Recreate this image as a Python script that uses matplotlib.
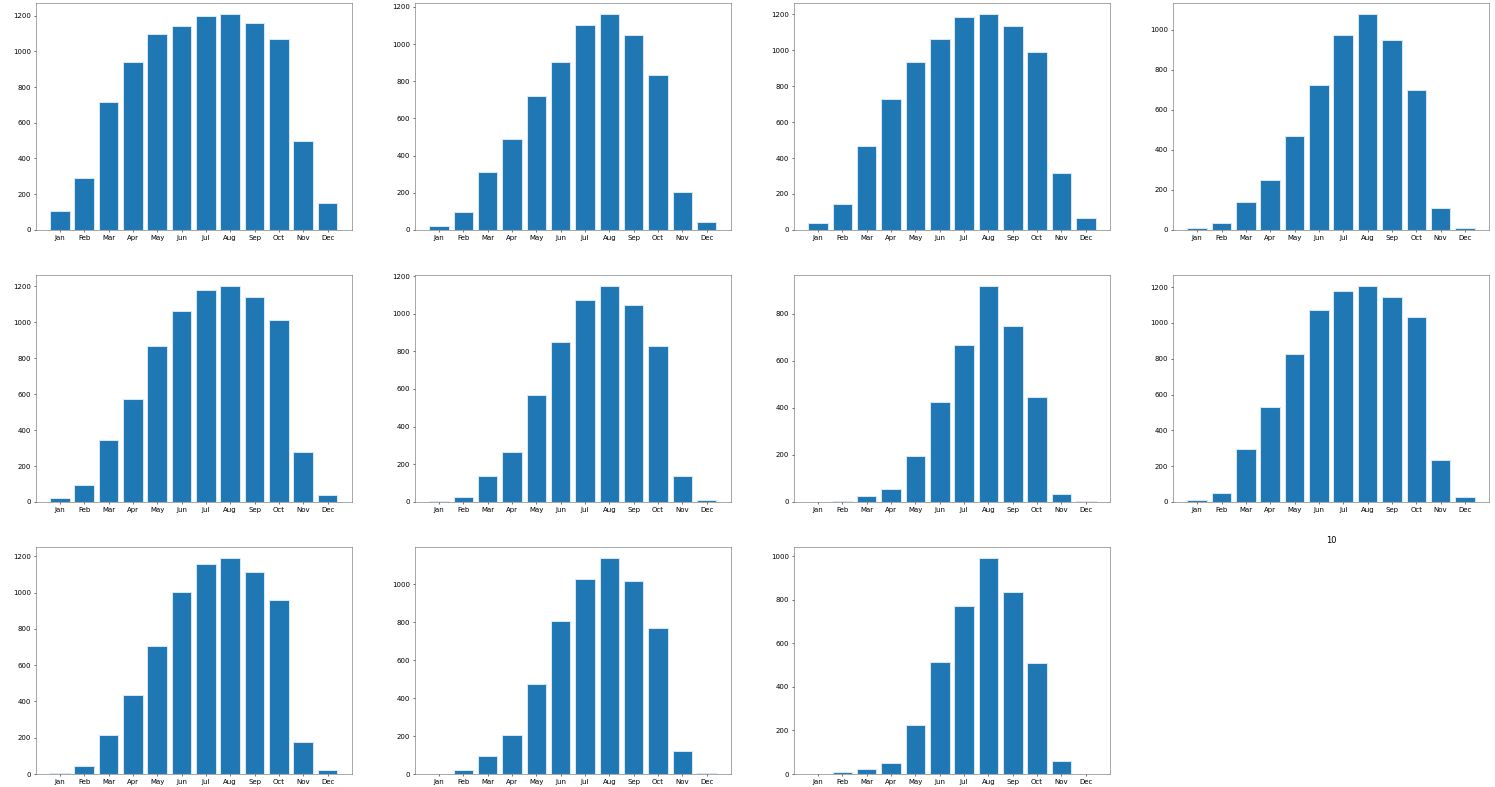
import matplotlib
matplotlib.use("Agg")
import matplotlib.pyplot as plt

months = ["Jan", "Feb", "Mar", "Apr", "May", "Jun", "Jul", "Aug", "Sep", "Oct", "Nov", "Dec"]

s0 = [105, 290, 715, 938, 1100, 1142, 1200, 1210, 1160, 1068, 500, 150]
s1 = [20, 95, 312, 488, 720, 905, 1103, 1162, 1048, 832, 205, 40]
s2 = [37, 143, 468, 727, 938, 1062, 1185, 1203, 1137, 993, 315, 68]
s3 = [8, 33, 137, 247, 468, 723, 972, 1078, 950, 700, 108, 10]
s4 = [22, 93, 347, 575, 868, 1061, 1178, 1202, 1141, 1011, 278, 41]
s5 = [7, 27, 136, 265, 566, 850, 1071, 1147, 1048, 830, 136, 12]
s6 = [1, 4, 24, 55, 194, 426, 668, 919, 748, 447, 34, 4]
s7 = [9, 50, 296, 530, 828, 1073, 1176, 1206, 1144, 1031, 236, 28]
s8 = [5, 46, 213, 434, 705, 1005, 1156, 1191, 1115, 959, 178, 24]
s9 = [1, 19, 96, 205, 474, 805, 1028, 1137, 1016, 770, 119, 5]
s10 = [1, 8, 23, 51, 224, 513, 770, 991, 836, 508, 58, 1]

series = [s0, s1, s2, s3, s4, s5, s6, s7, s8, s9, s10]

fig, axes = plt.subplots(3, 4, figsize=(29.9, 15.74), dpi=50)
fig.subplots_adjust(left=0.0239, right=0.996, top=0.996, bottom=0.0165,
                    wspace=0.2, hspace=0.2)

flat = axes.ravel()
for i, vals in enumerate(series):
    ax = flat[i]
    ax.bar(months, vals, color="#1f77b4", edgecolor="#d6e6f4", linewidth=1.5)
    for sp in ax.spines.values():
        sp.set_color("#666666")

flat[11].axis("off")
flat[11].set_title("10")

fig.savefig("out.png", dpi=50)
